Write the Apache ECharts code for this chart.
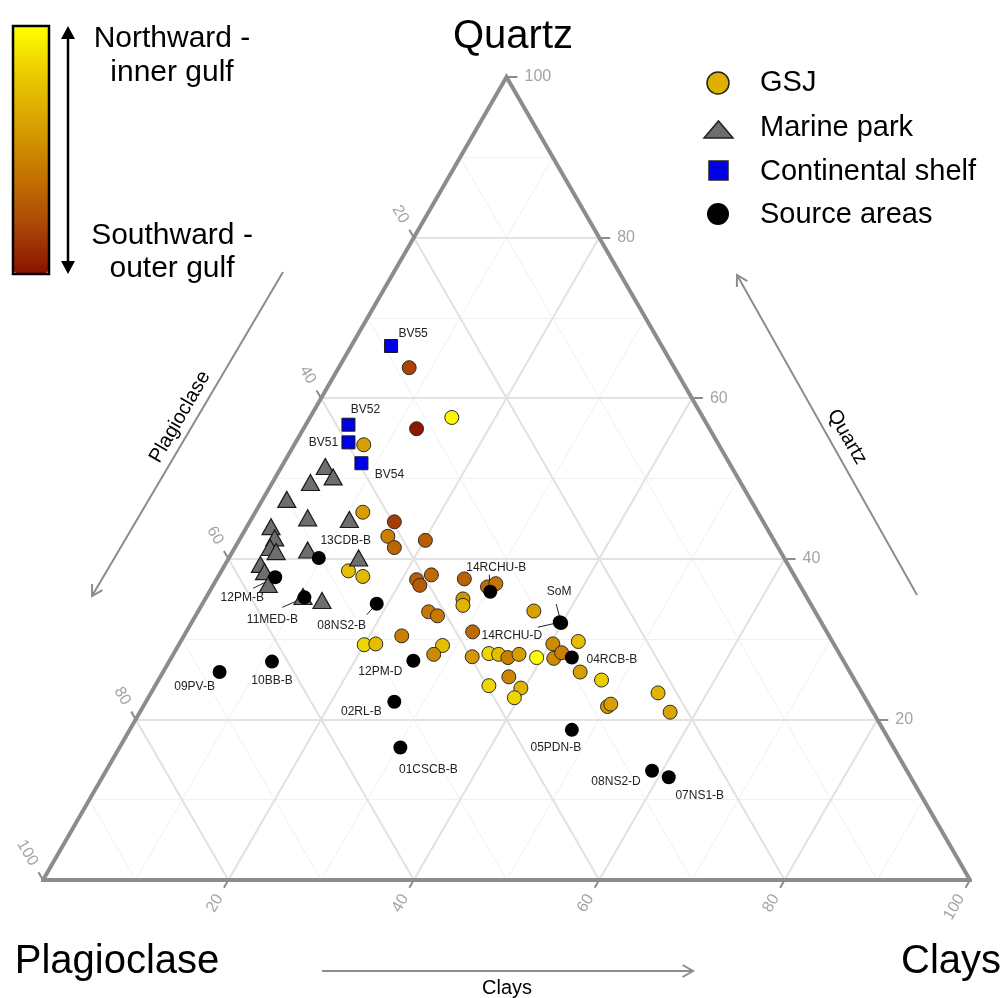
<!DOCTYPE html>
<html><head><meta charset="utf-8">
<script src="https://cdn.jsdelivr.net/npm/echarts@6/dist/echarts.min.js"></script>
<style>html,body{margin:0;padding:0;background:#fff}#c{width:1005px;height:998px}</style>
</head><body><div id="c"></div>
<script>
// ===== DATA (percent composition: Quartz, Clays, Plagioclase) =====
const gsjQuartz = [63.8,57.6,56.2,54.2,45.8,44.6,42.8,41.4,42.3,38.5,37.8,37.4,36.7,38.0,37.5,36.5,36.9,35.0,34.2,33.4,32.9,30.4,29.3,29.4,29.2,28.1,30.9,33.5,27.8,28.2,28.1,27.7,28.1,27.7,29.4,27.6,28.3,29.7,25.9,24.9,25.3,24.2,23.9,22.7,21.6,21.9,23.3,20.9];
const gsjClays = [7.6,15.3,12.2,7.5,11.6,15.6,15.8,17.2,20.1,13.7,15.6,21.6,22.3,22.9,26.7,29.7,30.4,27.8,28.2,24.9,26.1,23.5,20.0,21.2,28.5,28.1,30.9,36.2,32.4,34.0,35.1,36.3,37.3,39.4,40.3,41.3,41.8,42.9,45.0,47.8,37.6,36.0,39.6,39.5,50.1,50.3,54.7,57.2];
const gsjPlagioclase = [28.6,27.1,31.6,38.3,42.6,39.8,41.4,41.4,37.6,47.8,46.6,41.0,41.0,39.1,35.8,33.8,32.7,37.2,37.6,41.7,41.0,46.1,50.7,49.4,42.3,43.8,38.2,30.3,39.8,37.8,36.8,36.0,34.6,32.9,30.3,31.1,29.9,27.4,29.1,27.3,37.1,39.8,36.5,37.8,28.3,27.8,22.0,21.9];
// 0 = southward / outer gulf, 1 = northward / inner gulf
const gsjGulfPosition = [0.18,0.97,0.02,0.6,0.6,0.15,0.45,0.33,0.3,0.75,0.72,0.3,0.28,0.35,0.32,0.35,0.4,0.55,0.7,0.42,0.42,0.45,0.85,0.75,0.75,0.5,0.35,0.6,0.55,0.85,0.75,0.45,0.6,1.0,0.5,0.5,0.45,0.75,0.6,0.82,0.48,0.85,0.7,0.85,0.55,0.6,0.7,0.62];

const parkQuartz = [51.5,50.2,49.5,47.4,45.1,44.9,44.0,42.6,41.4,40.9,41.1,40.1,39.3,38.4,36.8,35.3,34.8];
const parkClays = [4.7,6.2,4.1,2.6,6.0,10.6,2.6,3.7,3.8,4.7,8.0,14.0,3.8,4.7,5.9,10.4,12.7];
const parkPlagioclase = [43.8,43.6,46.4,50.0,48.9,44.5,53.4,53.7,54.8,54.4,50.9,45.9,56.9,56.9,57.3,54.3,52.5];

const shelfNames = ['BV55','BV52','BV51','BV54'];
const shelfQuartz = [66.5,56.7,54.5,51.9];
const shelfClays = [4.3,4.6,5.7,8.4];
const shelfPlagioclase = [29.2,38.7,39.8,39.7];

const sourceNames = ['13CDB-B','12PM-B','11MED-B','08NS2-B','14RCHU-B','SoM','14RCHU-D','04RCB-B','12PM-D','02RL-B','05PDN-B','01CSCB-B','08NS2-D','07NS1-B','09PV-B','10BB-B'];
const sourceQuartz = [40.1,37.7,35.2,34.4,35.9,32.0,32.1,27.7,27.3,22.2,18.7,16.5,13.6,12.8,25.9,27.2];
const sourceClays = [9.7,6.2,10.6,18.8,30.3,39.9,39.7,43.2,26.3,26.8,47.7,30.3,58.9,61.1,6.1,11.1];
const sourcePlagioclase = [50.2,56.1,54.2,46.8,33.8,28.1,28.2,29.1,46.4,51.0,33.6,53.2,27.5,26.1,68.0,61.7];

const tickValues = [20,40,60,80,100];
const gridValues = [10,20,30,40,50,60,70,80,90];

// ===== label placement (pixels, relative to the point) =====
const labelOffsets = {
  'BV55':[22,-12],'BV52':[17,-15],'BV51':[-25,0],'BV54':[28,11],
  '13CDB-B':[27,-17],'12PM-B':[-33,20],'11MED-B':[-32,22],'08NS2-B':[-35,22],
  '14RCHU-B':[6,-24],'SoM':[-2,-31],'14RCHU-D':[-48,13],'04RCB-B':[40,2],
  '12PM-D':[-33,11],'02RL-B':[-33,10],'05PDN-B':[-16,18],'01CSCB-B':[28,22],
  '08NS2-D':[-36,11],'07NS1-B':[31,18],'09PV-B':[-25,15],'10BB-B':[0,19]
};
const leaderEnds = {'12PM-B':[-22,11],'11MED-B':[-22,10],'08NS2-B':[-10,11],'14RCHU-B':[-1,-17],'SoM':[-5,-19],'14RCHU-D':[-22,5]};

// ===== geometry helpers =====
const S3 = Math.sqrt(3)/2;
const GRID = {left:43, top:77, width:927, height:803};
const kx = GRID.width/100, ky = GRID.height/(100*S3);
function tern(q, c, p){ const s=q+c+p; q=q/s*100; c=c/s*100; return [c+q/2, q*S3]; }
function offPx(pt, dx, dy){ return [pt[0]+dx/kx, pt[1]-dy/ky]; }

const FONT = '"Liberation Sans", Arial, Helvetica, sans-serif';
const TICKC = '#8c8c8c';

// gridlines
const minorSeg = [], majorSeg = [];
gridValues.forEach(k => {
  const arr = (k % 20 === 0) ? majorSeg : minorSeg;
  arr.push({coords:[tern(k,0,100-k), tern(k,100-k,0)]});          // quartz = k
  arr.push({coords:[tern(0,k,100-k), tern(100-k,k,0)]});          // clays = k
  arr.push({coords:[tern(0,100-k,k), tern(100-k,0,k)]});          // plagioclase = k
});

// ticks + tick labels
const tickSeg = [], leftLab = [], bottomLab = [], rightLab = [];
const TL = 9, LG = 18;
tickValues.forEach(v => {
  const pl = tern(100-v, 0, v);
  tickSeg.push({coords:[pl, offPx(pl, -0.5*TL, -S3*TL)]});
  leftLab.push({name:String(v), value: offPx(pl, -0.5*LG, -S3*LG)});
  const pb = tern(0, v, 100-v);
  tickSeg.push({coords:[pb, offPx(pb, -0.5*TL, S3*TL)]});
  bottomLab.push({name:String(v), value: offPx(pb, -0.5*LG, S3*LG)});
  const pr = tern(v, 100-v, 0);
  tickSeg.push({coords:[pr, offPx(pr, TL+2, 0)]});
  rightLab.push({name:String(v), value: offPx(pr, LG, 0)});
});

// point series data
const gsjData = gsjQuartz.map((q,i) => { const p = tern(q, gsjClays[i], gsjPlagioclase[i]); return [p[0], p[1], gsjGulfPosition[i]]; });
const parkData = parkQuartz.map((q,i) => tern(q, parkClays[i], parkPlagioclase[i]));
function labelled(names, Q, C, P){
  return names.map((n,i) => ({name:n, value: tern(Q[i], C[i], P[i]),
    label:{offset: labelOffsets[n] || [0,0]}}));
}
const shelfData = labelled(shelfNames, shelfQuartz, shelfClays, shelfPlagioclase);
const sourceData = labelled(sourceNames, sourceQuartz, sourceClays, sourcePlagioclase);
const leaderSeg = sourceData.filter(d => leaderEnds[d.name]).map(d => {
  const e = leaderEnds[d.name]; return {coords:[d.value, offPx(d.value, e[0], e[1])]};
});

const ptLabel = {show:true, formatter:'{b}', position:'inside', align:'center', verticalAlign:'middle',
  color:'#222', fontSize:12, fontFamily:FONT, textBorderWidth:0};

function tickLabelSeries(data, rot, align){
  return {type:'scatter', data, symbol:'circle', symbolSize:1, itemStyle:{color:'rgba(0,0,0,0)'}, silent:true, z:4, clip:false,
    labelLayout:{hideOverlap:false},
    label:{show:true, formatter:'{b}', position:'inside', align, verticalAlign:'middle', rotate:rot,
      color:TICKC, fontSize:16, fontFamily:FONT, textBorderWidth:0}};
}

// ===== decorations =====
function arrow(x1,y1,x2,y2,len){
  const a = Math.atan2(y1-y2, x1-x2), s = Math.PI/6;
  return [
    {type:'line', shape:{x1,y1,x2,y2}, style:{stroke:TICKC, lineWidth:2}},
    {type:'polyline', shape:{points:[[x2+len*Math.cos(a+s), y2+len*Math.sin(a+s)],[x2,y2],[x2+len*Math.cos(a-s), y2+len*Math.sin(a-s)]]},
      style:{stroke:TICKC, lineWidth:2, fill:null}}
  ];
}
function txt(x,y,t,size,opts,align){
  align = align || 'center';
  return Object.assign({type:'text', x, y, style:{text:t, font: size+'px '+FONT, fill:'#000',
    align:align, verticalAlign:'middle', textAlign:align, textVerticalAlign:'middle'}}, opts||{});
}
const graphics = [
  {type:'rect', z:100, shape:{x:13,y:26,width:36,height:248}, style:{fill:null, stroke:'#000', lineWidth:2.5}},
  {type:'line', shape:{x1:68,y1:36,x2:68,y2:264}, style:{stroke:'#000', lineWidth:2.5}},
  {type:'polygon', shape:{points:[[61,39],[75,39],[68,26]]}, style:{fill:'#000'}},
  {type:'polygon', shape:{points:[[61,261],[75,261],[68,274]]}, style:{fill:'#000'}},
  txt(172,39,'Northward -',30), txt(172,73,'inner gulf',30),
  txt(172,236,'Southward -',30), txt(172,269,'outer gulf',30),
  txt(513,37,'Quartz',40), txt(117,962,'Plagioclase',40), txt(951,962,'Clays',40),
  ...arrow(283,272,92,596,12), ...arrow(917,595,737,275,12), ...arrow(322,971,693,971,12),
  txt(180,417,'Plagioclase',20,{rotation:Math.PI/3}),
  txt(847,437,'Quartz',20,{rotation:-Math.PI/3}),
  txt(507,988,'Clays',20),
  // legend
  {type:'circle', shape:{cx:718,cy:83,r:11}, style:{fill:'#e0b000', stroke:'#222', lineWidth:1.5}},
  {type:'polygon', shape:{points:[[704,138],[733,138],[718.5,121]]}, style:{fill:'#6e6e6e', stroke:'#222', lineWidth:1.5}},
  {type:'rect', shape:{x:709,y:161,width:19,height:19}, style:{fill:'#0000e6', stroke:'#222', lineWidth:1.5}},
  {type:'circle', shape:{cx:718,cy:214,r:11}, style:{fill:'#000'}},
  txt(760,83,'GSJ',29,null,'left'),
  txt(760,128,'Marine park',29,null,'left'),
  txt(760,172,'Continental shelf',29,null,'left'),
  txt(760,215,'Source areas',29,null,'left')
];

const chart = echarts.init(document.getElementById('c'), null, {renderer:'canvas'});
chart.setOption({
  animation:false,
  backgroundColor:'#fff',
  textStyle:{fontFamily:FONT},
  grid:{left:GRID.left, top:GRID.top, width:GRID.width, height:GRID.height},
  xAxis:{type:'value', min:0, max:100, show:false},
  yAxis:{type:'value', min:0, max:100*S3, show:false},
  visualMap:{type:'continuous', min:0, max:1, dimension:2, seriesIndex:8, show:true,
    left:14, top:27, itemWidth:34, itemHeight:246, padding:0, calculable:false, hoverLink:false,
    inRange:{color:['#8b1200','#ad4806','#c57400','#d7a000','#e9c800','#ffff00']}},
  graphic: graphics,
  series:[
    {type:'lines', coordinateSystem:'cartesian2d', data:minorSeg, silent:true, z:1, clip:false, lineStyle:{color:'#f1f1f1', width:1, opacity:1}},
    {type:'lines', coordinateSystem:'cartesian2d', data:majorSeg, silent:true, z:1, clip:false, lineStyle:{color:'#e2e2e2', width:2, opacity:1}},
    {type:'line', data:[tern(0,0,100), tern(0,100,0), tern(100,0,0), tern(0,0,100), tern(0,100,0)], showSymbol:false, silent:true, z:2, clip:false,
      lineStyle:{color:TICKC, width:4, join:'miter'}},
    {type:'lines', coordinateSystem:'cartesian2d', data:tickSeg, silent:true, z:2, clip:false, lineStyle:{color:TICKC, width:2, opacity:1}},
    tickLabelSeries(leftLab, -60, 'right'),
    tickLabelSeries(bottomLab, 60, 'right'),
    tickLabelSeries(rightLab, 0, 'left'),
    {type:'lines', coordinateSystem:'cartesian2d', data:leaderSeg, silent:true, z:3, clip:false, lineStyle:{color:'#222', width:1, opacity:1}},
    {name:'GSJ', type:'scatter', data:gsjData, symbol:'circle', symbolSize:14, z:5, clip:false,
      itemStyle:{color:'#e0b000', borderColor:'#2a2a2a', borderWidth:1, opacity:1}},
    {name:'Marine park', type:'scatter', data:parkData, symbol:'triangle', symbolSize:[18,16], z:6, clip:false,
      itemStyle:{color:'#6e6e6e', borderColor:'#1a1a1a', borderWidth:1.2, opacity:1}},
    {name:'Continental shelf', type:'scatter', data:shelfData, symbol:'rect', symbolSize:13, z:7, clip:false,
      itemStyle:{color:'#0000e6', borderColor:'#1a1a1a', borderWidth:1, opacity:1}, label:ptLabel},
    {name:'Source areas', type:'scatter', data:sourceData, symbol:'circle', symbolSize:14, z:8, clip:false,
      itemStyle:{color:'#000', opacity:1}, label:ptLabel}
  ]
});
</script></body></html>
